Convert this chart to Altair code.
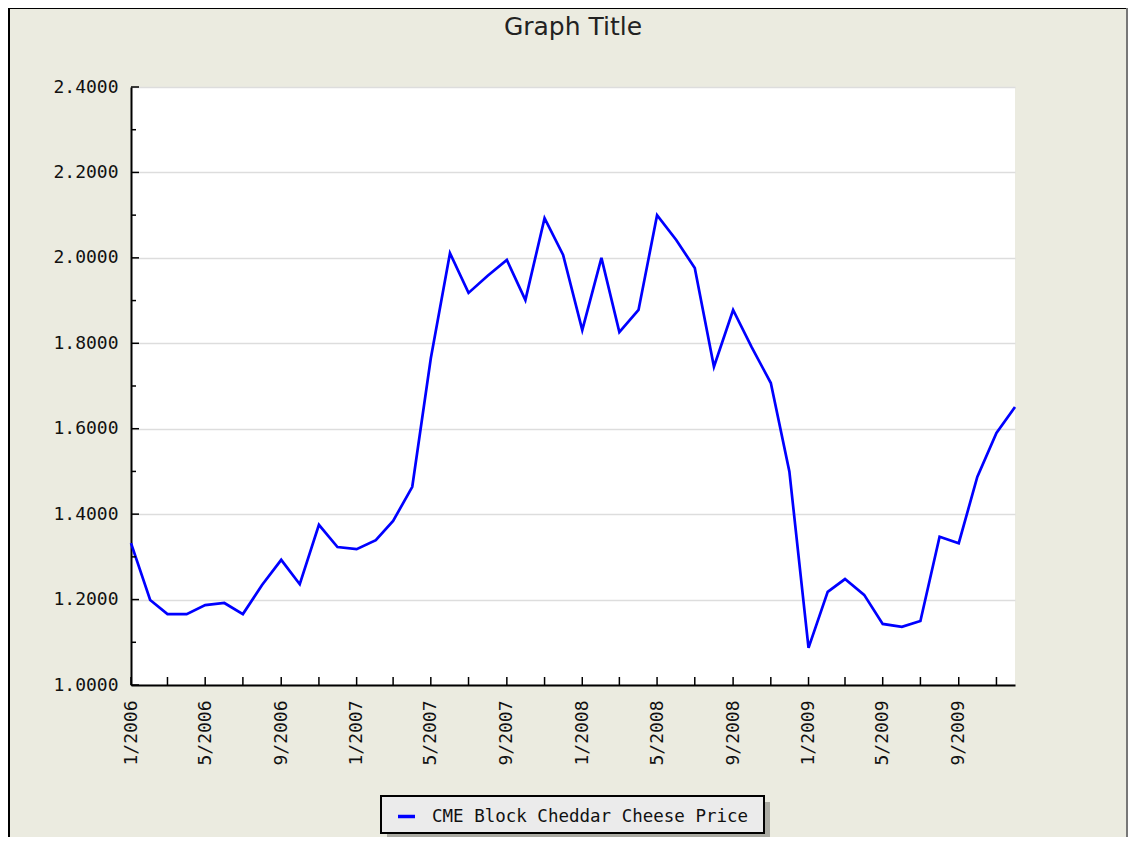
import altair as alt
import pandas as pd

# ---- data ----
years = [2006, 2007, 2008, 2009]
month_nums = list(range(1, 13))
dates = [f"{y}-{m:02d}-01" for y in years for m in month_nums]

prices = [1.332, 1.199, 1.166, 1.166, 1.187, 1.192, 1.166, 1.234, 1.293, 1.236, 1.375, 1.323,
          1.318, 1.339, 1.384, 1.464, 1.765, 2.011, 1.918, 1.958, 1.995, 1.901, 2.093, 2.007,
          1.831, 2.000, 1.826, 1.878, 2.100, 2.042, 1.976, 1.745, 1.878, 1.791, 1.707, 1.500,
          1.087, 1.218, 1.248, 1.211, 1.143, 1.136, 1.150, 1.347, 1.332, 1.487, 1.590, 1.651]

series_name = "CME Block Cheddar Cheese Price"
title_text = "Graph Title"

y_major = [1.0, 1.2, 1.4, 1.6, 1.8, 2.0, 2.2, 2.4]
y_minor = [1.1, 1.3, 1.5, 1.7, 1.9, 2.1, 2.3]
x_label_dates = [f"{y}-{m:02d}-01" for y in years for m in (1, 5, 9)]
x_tick_dates = [f"{y}-{m:02d}-01" for y in years for m in (1, 3, 5, 7, 9, 11)]


def ms(s):
    return int(pd.Timestamp(s, tz="UTC").value // 10**6)


df = pd.DataFrame({"date": dates, "price": prices, "series": [series_name] * len(dates)})
df_ymaj = pd.DataFrame({"v": y_major})
df_ymin = pd.DataFrame({"v": y_minor})
df_xt = pd.DataFrame({"d": x_tick_dates})
df_title = pd.DataFrame({"t": [title_text]})
one = pd.DataFrame({"a": [0]})

BG = "#EBEBE0"
MONO = "DejaVu Sans Mono"
W, H = 884, 598
PAD = {"left": 123, "top": 79, "right": 113, "bottom": 152}

xscale = alt.Scale(type="utc", domain=[ms("2006-01-01"), ms("2009-12-01")], nice=False)
yscale = alt.Scale(domain=[1.0, 2.4], nice=False, zero=False)

line = alt.Chart(df).mark_line(strokeWidth=2.7, interpolate="linear").encode(
    x=alt.X("date:T", scale=xscale,
            axis=alt.Axis(title=None, values=[ms(d) for d in x_label_dates], format="%-m/%Y",
                          labelAngle=270, labelAlign="right", labelBaseline="middle",
                          labelPadding=15, ticks=False, grid=False,
                          domainColor="black", domainWidth=2,
                          labelFont=MONO, labelFontSize=18, labelColor="#111")),
    y=alt.Y("price:Q", scale=yscale,
            axis=alt.Axis(title=None, values=y_major, format=".4f", ticks=False,
                          grid=True, gridColor="#DDDDDD", gridWidth=1.5,
                          domainColor="black", domainWidth=2, labelPadding=13,
                          labelFont=MONO, labelFontSize=18, labelColor="#111")),
    color=alt.Color("series:N", scale=alt.Scale(range=["#0000FF"]),
                    legend=alt.Legend(title=None, orient="none", legendX=265, legendY=719,
                                      symbolType="stroke", symbolStrokeWidth=3.5, symbolSize=289,
                                      padding=0, labelFont=MONO, labelFontSize=17.5,
                                      labelColor="#111", labelOffset=15, labelLimit=1000)),
)

ymaj_ticks = alt.Chart(df_ymaj).mark_rule(color="black", strokeWidth=1.5).encode(
    y=alt.Y("v:Q", scale=yscale), x=alt.value(0), x2=alt.value(8))
ymin_ticks = alt.Chart(df_ymin).mark_rule(color="black", strokeWidth=1.5).encode(
    y=alt.Y("v:Q", scale=yscale), x=alt.value(0), x2=alt.value(5))
x_ticks = alt.Chart(df_xt).mark_rule(color="black", strokeWidth=1.5).encode(
    x=alt.X("d:T", scale=xscale), y=alt.value(H), y2=alt.value(H - 8))

# legend box and its drop shadow
shadow = alt.Chart(one).mark_rect(color="#AAAAA2").encode(
    x=alt.value(256), x2=alt.value(639), y=alt.value(715), y2=alt.value(752))
legend_box = alt.Chart(one).mark_rect(fill="#EBEBEB", stroke="black", strokeWidth=2).encode(
    x=alt.value(250), x2=alt.value(633), y=alt.value(709), y2=alt.value(746))

# outer chart frame
frame_top = alt.Chart(one).mark_rule(color="black", strokeWidth=2).encode(
    x=alt.value(-123), x2=alt.value(W + PAD["right"]), y=alt.value(-79))
frame_left = alt.Chart(one).mark_rule(color="black", strokeWidth=2).encode(
    x=alt.value(-122), y=alt.value(-80), y2=alt.value(H + PAD["bottom"]))
frame_right = alt.Chart(one).mark_rule(color="#777777", strokeWidth=2).encode(
    x=alt.value(W + PAD["right"] - 1), y=alt.value(-80), y2=alt.value(H + PAD["bottom"]))

title = alt.Chart(df_title).mark_text(font="DejaVu Sans", fontSize=25, color="#222",
                                      align="center", baseline="alphabetic").encode(
    text="t:N", x=alt.value(W / 2), y=alt.value(-52))

chart = alt.layer(shadow, legend_box, frame_top, frame_left, frame_right, title,
                  line, ymaj_ticks, ymin_ticks, x_ticks).properties(
    width=W, height=H,
    autosize=alt.AutoSizeParams(type="none"),
    padding=PAD,
).configure(background=BG).configure_view(stroke=None, fill="white")

chart.save("out.html", embed_options={"renderer": "svg", "actions": False})
